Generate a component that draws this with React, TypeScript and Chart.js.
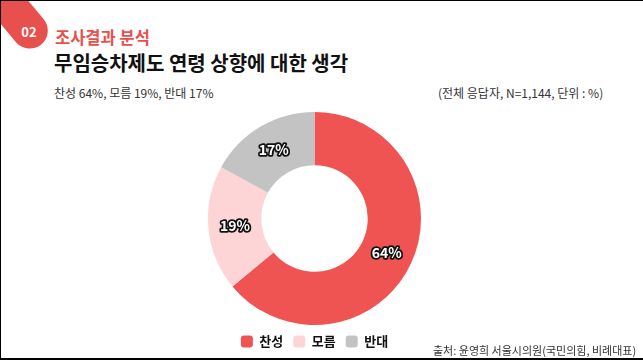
import React, { useEffect, useRef } from "react";
import { Chart, registerables } from "chart.js";

Chart.register(...registerables);

const categories = ["찬성", "모름", "반대"];
const values = [64, 19, 17];
const valueLabels = ["64%", "19%", "17%"];
const colors = ["#EF5352", "#FDD5D6", "#C3C3C3"];

const FONT = "'Noto Sans CJK KR', 'Noto Sans', sans-serif";

const labelPlugin = {
  id: "sliceLabels",
  afterDatasetsDraw(chart: any) {
    const ctx = chart.ctx;
    const meta = chart.getDatasetMeta(0);
    ctx.save();
    ctx.font = `bold 14px ${FONT}`;
    ctx.textAlign = "center";
    ctx.textBaseline = "middle";
    ctx.lineJoin = "round";
    meta.data.forEach((arc: any, i: number) => {
      const p = arc.tooltipPosition();
      ctx.lineWidth = 3.5;
      ctx.strokeStyle = "#111";
      ctx.strokeText(valueLabels[i], p.x, p.y);
      ctx.fillStyle = "#fff";
      ctx.fillText(valueLabels[i], p.x, p.y);
    });
    ctx.restore();
  },
};

function DonutChart() {
  const ref = useRef<HTMLCanvasElement>(null);
  useEffect(() => {
    if (!ref.current) return;
    const chart = new Chart(ref.current, {
      type: "doughnut",
      data: {
        labels: categories,
        datasets: [
          {
            data: values,
            backgroundColor: colors,
            borderWidth: 0,
          },
        ],
      },
      options: {
        animation: false,
        responsive: false,
        maintainAspectRatio: false,
        cutout: "50%",
        layout: { padding: { top: 7, right: 16, bottom: 0, left: 0 } },
        plugins: {
          tooltip: { enabled: false },
          legend: {
            position: "bottom",
            labels: {
              boxWidth: 12,
              boxHeight: 12,
              useBorderRadius: true,
              borderRadius: 3,
              padding: 10,
              color: "#111",
              font: { family: FONT, size: 13, weight: "bold" },
            },
          },
        },
      },
      plugins: [labelPlugin],
    } as any);
    return () => chart.destroy();
  }, []);
  return (
    <canvas
      ref={ref}
      width={643}
      height={253}
      style={{ position: "absolute", left: 0, top: 104, width: 643, height: 253 }}
    />
  );
}

export default function App() {
  return (
    <div
      style={{
        position: "absolute",
        left: 0,
        top: 0,
        width: 643,
        height: 360,
        background: "#fff",
        overflow: "hidden",
        fontFamily: FONT,
        borderTop: "1.5px solid #000",
        borderLeft: "1.5px solid #000",
        borderBottom: "2px solid #000",
        boxSizing: "border-box",
      }}
    >
      <div
        style={{
          position: "absolute",
          left: -27,
          top: -6,
          width: 82,
          height: 36,
          borderRadius: 18,
          background: "#E8504D",
          transform: "rotate(50deg)",
        }}
      />
      <div
        style={{
          position: "absolute",
          left: 13,
          top: 22,
          width: 30,
          textAlign: "center",
          color: "#fff",
          fontWeight: 700,
          fontSize: 13,
          lineHeight: "18px",
        }}
      >
        02
      </div>
      <div
        style={{
          position: "absolute",
          left: 54,
          top: 26,
          color: "#E8504D",
          fontWeight: 700,
          fontSize: 16.5,
          lineHeight: "20px",
          whiteSpace: "nowrap",
        }}
      >
        조사결과 분석
      </div>
      <div
        style={{
          position: "absolute",
          left: 53,
          top: 49,
          color: "#111",
          fontWeight: 700,
          fontSize: 20,
          lineHeight: "26px",
          whiteSpace: "nowrap",
        }}
      >
        무임승차제도 연령 상향에 대한 생각
      </div>
      <div
        style={{
          position: "absolute",
          left: 53,
          top: 83,
          color: "#333",
          fontSize: 12,
          lineHeight: "18px",
          whiteSpace: "nowrap",
        }}
      >
        찬성 64%, 모름 19%, 반대 17%
      </div>
      <div
        style={{
          position: "absolute",
          left: 437,
          top: 83,
          color: "#333",
          fontSize: 12,
          lineHeight: "18px",
          whiteSpace: "nowrap",
        }}
      >
        (전체 응답자, N=1,144, 단위 : %)
      </div>
      <DonutChart />
      <div
        style={{
          position: "absolute",
          left: 432,
          top: 341,
          color: "#333",
          fontSize: 11,
          lineHeight: "16px",
          whiteSpace: "nowrap",
        }}
      >
        출처: 윤영희 서울시의원(국민의힘, 비례대표)
      </div>
    </div>
  );
}
